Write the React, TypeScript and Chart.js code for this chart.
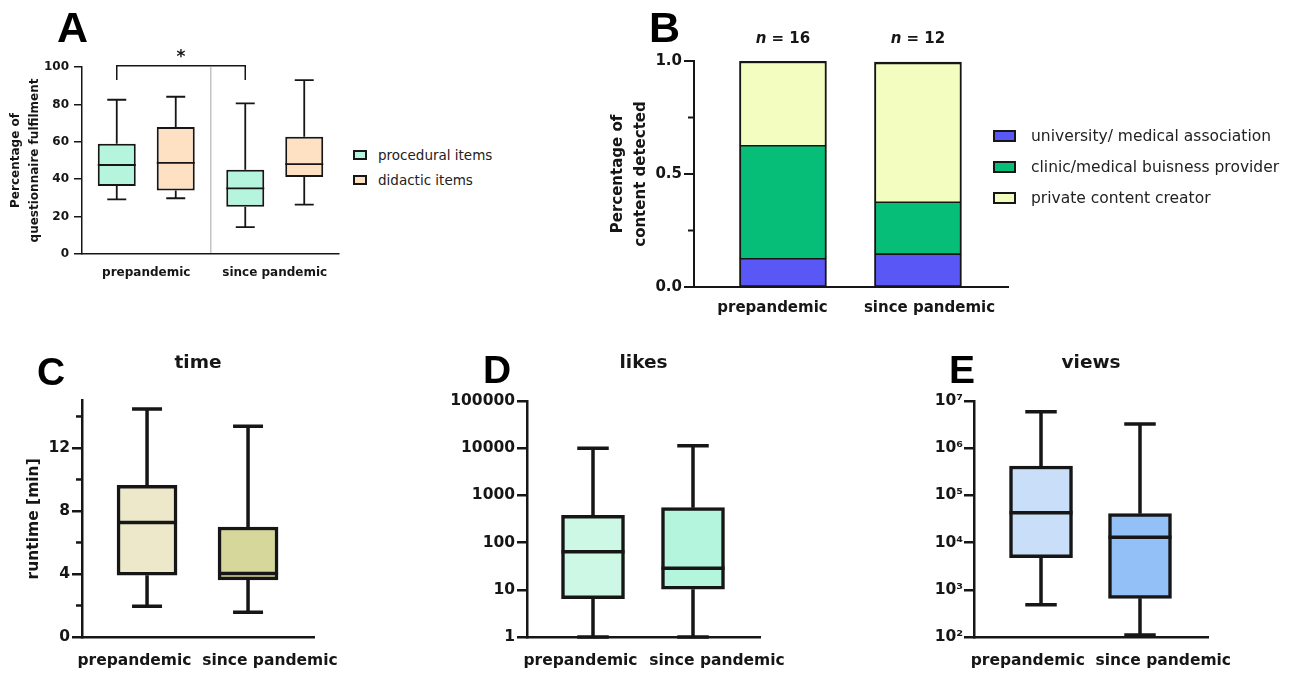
import { useEffect, useRef } from "react";
import { Chart, registerables } from "chart.js";

Chart.register(...registerables);

// ---------------- data ----------------
const groupLabels = ["prepandemic", "since pandemic"];

// A: questionnaire fulfilment (%)
const itemSeriesLabels = ["procedural items", "didactic items"];
const proceduralMin = [29.2, 14.4];
const proceduralQ1 = [36.4, 25.3];
const proceduralMedian = [47.6, 35.1];
const proceduralQ3 = [59.0, 45.0];
const proceduralMax = [82.5, 80.6];
const didacticMin = [29.8, 26.4];
const didacticQ1 = [34.0, 41.2];
const didacticMedian = [48.7, 48.1];
const didacticQ3 = [67.9, 62.7];
const didacticMax = [84.1, 93.0];
const fulfilmentTicks = [0, 20, 40, 60, 80, 100];
const significanceLevel = 100.7;
const significanceLegEnd = 93;
const significanceMark = "*";

// B: content source shares
const sourceLabels = [
  "university/ medical association",
  "clinic/medical buisness provider",
  "private content creator",
];
const universityShare = [0.125, 0.145];
const clinicShare = [0.5, 0.23];
const privateShare = [0.375, 0.62];
const sampleSizes = [16, 12];
const shareTicks = [0, 0.5, 1];
const shareMinorTicks = [0.25, 0.75];

// C: runtime [min]
const runtimeMin = [1.95, 1.57];
const runtimeQ1 = [3.92, 3.63];
const runtimeMedian = [7.27, 4.03];
const runtimeQ3 = [9.62, 6.98];
const runtimeMax = [14.48, 13.38];
const runtimeTicks = [0, 4, 8, 12];
const runtimeMinorTicks = [2, 6, 10, 14];

// D: likes
const likesMin = [1, 1];
const likesQ1 = [6.5, 10.3];
const likesMedian = [64, 28.5];
const likesQ3 = [380, 550];
const likesMax = [10000, 11300];
const likesTicks = [1, 10, 100, 1000, 10000, 100000];

// E: views
const viewsMin = [480, 110];
const viewsQ1 = [4800, 660];
const viewsMedian = [43000, 13000];
const viewsQ3 = [420000, 41000];
const viewsMax = [5900000, 3250000];
const viewsTicks = [1e2, 1e3, 1e4, 1e5, 1e6, 1e7];

// ---------------- styles ----------------
const FONT = "'DejaVu Sans', sans-serif";
const LETTER_FONT = "'Liberation Sans', Arial, sans-serif";
const INK = "#161616";
const DIVIDER = "#c4c4c4";
const itemColors = ["#b5f5dd", "#fee0c3"];
const sourceColors = ["#5957f5", "#06be77", "#f3fdc0"];
const runtimeFills = ["#ede8ca", "#d6d79b"];
const likesFills = ["#cdf8e6", "#b3f5dd"];
const viewsFills = ["#c9def8", "#92c0f7"];
const SUP = ["\u2070", "\u00b9", "\u00b2", "\u00b3", "\u2074", "\u2075", "\u2076", "\u2077", "\u2078", "\u2079"];

const font = (size: number, weight: any = "bold", lineHeight = 1.2) => ({
  family: FONT,
  size,
  weight,
  lineHeight,
});

// ---------------- plugins ----------------
const boxWhiskerPlugin = {
  id: "boxWhisker",
  afterDatasetsDraw(chart: any) {
    const { ctx } = chart;
    chart.data.datasets.forEach((ds: any, di: number) => {
      const stats = ds.boxStats;
      if (!stats) return;
      const meta = chart.getDatasetMeta(di);
      const yScale = chart.scales[meta.yAxisID];
      ctx.save();
      ctx.strokeStyle = INK;
      ctx.lineWidth = ds.whiskerWidth;
      meta.data.forEach((el: any, i: number) => {
        const x = el.x;
        const w = el.width;
        const cap = w * 0.5;
        const yMax = yScale.getPixelForValue(stats.max[i]);
        const yMin = yScale.getPixelForValue(stats.min[i]);
        const yQ3 = yScale.getPixelForValue(stats.q3[i]);
        const yQ1 = yScale.getPixelForValue(stats.q1[i]);
        const yMed = yScale.getPixelForValue(stats.median[i]);
        ctx.beginPath();
        ctx.moveTo(x, yQ3);
        ctx.lineTo(x, yMax);
        ctx.moveTo(x - cap / 2, yMax);
        ctx.lineTo(x + cap / 2, yMax);
        ctx.moveTo(x, yQ1);
        ctx.lineTo(x, yMin);
        ctx.moveTo(x - cap / 2, yMin);
        ctx.lineTo(x + cap / 2, yMin);
        ctx.moveTo(x - w / 2, yMed);
        ctx.lineTo(x + w / 2, yMed);
        ctx.stroke();
      });
      ctx.restore();
    });
  },
};

const minorTickPlugin = {
  id: "minorTicks",
  afterDraw(chart: any, _args: any, opts: any) {
    if (!opts || !opts.values) return;
    const s = chart.scales.y;
    const { ctx } = chart;
    ctx.save();
    ctx.strokeStyle = INK;
    ctx.lineWidth = opts.width;
    opts.values.forEach((v: number) => {
      const py = s.getPixelForValue(v);
      ctx.beginPath();
      ctx.moveTo(s.right - opts.length, py);
      ctx.lineTo(s.right, py);
      ctx.stroke();
    });
    ctx.restore();
  },
};

const significancePlugin = {
  id: "significance",
  afterDraw(chart: any) {
    const { ctx } = chart;
    const meta = chart.getDatasetMeta(0);
    const a = meta.data[0].x;
    const b = meta.data[1].x;
    const y = chart.scales.y;
    const top = y.getPixelForValue(significanceLevel);
    const leg = y.getPixelForValue(significanceLegEnd);
    ctx.save();
    ctx.strokeStyle = INK;
    ctx.lineWidth = 1.5;
    ctx.beginPath();
    ctx.moveTo(a, leg);
    ctx.lineTo(a, top);
    ctx.lineTo(b, top);
    ctx.lineTo(b, leg);
    ctx.stroke();
    ctx.fillStyle = INK;
    ctx.font = `bold 17px ${FONT}`;
    ctx.textAlign = "center";
    ctx.textBaseline = "alphabetic";
    ctx.fillText(significanceMark, (a + b) / 2, top - 4);
    ctx.restore();
  },
};

const sampleSizePlugin = {
  id: "sampleSize",
  afterDraw(chart: any) {
    const { ctx } = chart;
    const meta = chart.getDatasetMeta(chart.data.datasets.length - 1);
    const y = chart.scales.y.getPixelForValue(1) - 22;
    const italic = `italic bold 15px ${FONT}`;
    const bold = `bold 15px ${FONT}`;
    ctx.save();
    ctx.fillStyle = INK;
    ctx.textBaseline = "middle";
    ctx.textAlign = "left";
    meta.data.forEach((el: any, i: number) => {
      const rest = ` = ${sampleSizes[i]}`;
      ctx.font = italic;
      const w1 = ctx.measureText("n").width;
      ctx.font = bold;
      const w2 = ctx.measureText(rest).width;
      const x0 = el.x - (w1 + w2) / 2;
      ctx.font = italic;
      ctx.fillText("n", x0, y);
      ctx.font = bold;
      ctx.fillText(rest, x0 + w1, y);
    });
    ctx.restore();
  },
};

const baseOptions = {
  responsive: false,
  animation: false,
  devicePixelRatio: 1,
};

// ---------------- configs ----------------
function makeFulfilmentConfig(): any {
  const series = [
    { label: itemSeriesLabels[0], fill: itemColors[0], min: proceduralMin, q1: proceduralQ1, median: proceduralMedian, q3: proceduralQ3, max: proceduralMax },
    { label: itemSeriesLabels[1], fill: itemColors[1], min: didacticMin, q1: didacticQ1, median: didacticMedian, q3: didacticQ3, max: didacticMax },
  ];
  return {
    type: "bar",
    data: {
      labels: groupLabels,
      datasets: series.map((s) => ({
        label: s.label,
        data: groupLabels.map((_, i) => [s.q1[i], s.q3[i]]),
        backgroundColor: s.fill,
        borderColor: INK,
        borderWidth: 2,
        borderSkipped: false,
        categoryPercentage: 0.918,
        barPercentage: 0.644,
        boxStats: { min: s.min, q1: s.q1, median: s.median, q3: s.q3, max: s.max },
        whiskerWidth: 1.8,
      })),
    },
    options: {
      ...baseOptions,
      layout: { padding: { left: 0, top: 67, right: 6, bottom: 0 } },
      plugins: { legend: { display: false }, tooltip: { enabled: false } },
      scales: {
        x: {
          type: "category",
          offset: true,
          grid: {
            display: true,
            offset: true,
            drawTicks: false,
            drawOnChartArea: true,
            lineWidth: 1.5,
            color: (c: any) => (c.index === 1 ? DIVIDER : "rgba(0,0,0,0)"),
          },
          border: { display: true, color: INK, width: 1.5 },
          ticks: { color: INK, font: font(12), padding: 12, maxRotation: 0, minRotation: 0, autoSkip: false },
          afterFit: (s: any) => {
            s.height = 46;
          },
        },
        y: {
          type: "linear",
          min: 0,
          max: 100,
          afterBuildTicks: (s: any) => {
            s.ticks = fulfilmentTicks.map((value) => ({ value }));
          },
          ticks: { color: INK, font: font(12), padding: 5 },
          grid: { drawOnChartArea: false, drawTicks: true, tickLength: 8, color: INK, lineWidth: 1.5 },
          border: { display: true, color: INK, width: 1.5 },
          title: {
            display: true,
            text: ["Percentage of", "questionnaire fulfilment"],
            color: INK,
            font: font(12, "bold", 1.6),
            padding: { top: 6, bottom: 0 },
          },
          afterFit: (s: any) => {
            s.width = 82;
          },
        },
      },
    },
    plugins: [boxWhiskerPlugin, significancePlugin],
  };
}

function makeSourceConfig(): any {
  const shares = [universityShare, clinicShare, privateShare];
  return {
    type: "bar",
    data: {
      labels: groupLabels,
      datasets: shares.map((vals, k) => ({
        label: sourceLabels[k],
        data: groupLabels.map((_, i) => ({ x: i, y: vals[i] })),
        backgroundColor: sourceColors[k],
        borderColor: INK,
        borderWidth: { left: 2, right: 2, top: k === shares.length - 1 ? 2.5 : 1.2, bottom: 1.2 },
        borderSkipped: false,
        barThickness: 87,
        xAxisID: "xBar",
        yAxisID: "y",
      })),
    },
    options: {
      ...baseOptions,
      layout: { padding: { left: 0, top: 61, right: 12, bottom: 0 } },
      plugins: {
        legend: { display: false },
        tooltip: { enabled: false },
        minorTicks: { values: shareMinorTicks, length: 6, width: 2 },
      },
      scales: {
        x: {
          type: "category",
          offset: true,
          z: 1,
          grid: { display: false, drawTicks: false },
          border: { display: true, color: INK, width: 2 },
          ticks: { color: INK, font: font(15), padding: 12, maxRotation: 0, minRotation: 0, autoSkip: false },
          afterFit: (s: any) => {
            s.height = 43;
          },
        },
        xBar: {
          type: "linear",
          display: false,
          offset: false,
          grid: { offset: false },
          bounds: "data",
          stacked: true,
          min: -0.659,
          max: 1.667,
        },
        y: {
          type: "linear",
          stacked: true,
          min: 0,
          max: 1,
          afterBuildTicks: (s: any) => {
            s.ticks = shareTicks.map((value) => ({ value }));
          },
          ticks: { color: INK, font: font(15), padding: 2, callback: (v: number) => Number(v).toFixed(1) },
          grid: { drawOnChartArea: false, drawTicks: true, tickLength: 10, color: INK, lineWidth: 2 },
          border: { display: true, color: INK, width: 2 },
          title: {
            display: true,
            text: ["Percentage of", "content detected"],
            color: INK,
            font: font(15, "bold", 1.53),
            padding: { top: 6.5, bottom: 0 },
          },
          afterFit: (s: any) => {
            s.width = 94;
          },
        },
      },
    },
    plugins: [sampleSizePlugin, minorTickPlugin],
  };
}

function makeMetricConfig(p: any): any {
  return {
    type: "bar",
    data: {
      datasets: [
        {
          label: p.title,
          data: groupLabels.map((_, i) => ({ x: i, y: [p.q1[i], p.q3[i]] })),
          backgroundColor: p.fills,
          borderColor: INK,
          borderWidth: 3.5,
          borderSkipped: false,
          barThickness: p.boxWidth,
          xAxisID: "xBox",
          yAxisID: "y",
          boxStats: { min: p.min, q1: p.q1, median: p.median, q3: p.q3, max: p.max },
          whiskerWidth: 3.5,
        },
      ],
    },
    options: {
      ...baseOptions,
      layout: { padding: { left: 0, top: 0, right: p.padRight, bottom: 0 } },
      plugins: {
        legend: { display: false },
        tooltip: { enabled: false },
        title: {
          display: true,
          text: p.title,
          fullSize: false,
          color: INK,
          font: font(18.5),
          padding: { top: 22, bottom: p.titleGap },
        },
        minorTicks: p.minor ? { values: p.minor, length: 6, width: 2.5 } : {},
      },
      scales: {
        x: {
          type: "linear",
          offset: false,
          bounds: "data",
          min: p.labelRange[0],
          max: p.labelRange[1],
          afterBuildTicks: (s: any) => {
            s.ticks = groupLabels.map((_, value) => ({ value }));
          },
          ticks: {
            color: INK,
            font: font(15.5),
            padding: 14.7,
            maxRotation: 0,
            minRotation: 0,
            autoSkip: false,
            callback: (v: number) => groupLabels[v] ?? "",
          },
          grid: { display: false, drawTicks: false, offset: false },
          border: { display: true, color: INK, width: 2.5 },
          afterFit: (s: any) => {
            s.height = 36;
          },
        },
        xBox: {
          type: "linear",
          display: false,
          offset: false,
          bounds: "data",
          grid: { offset: false },
          min: p.boxRange[0],
          max: p.boxRange[1],
        },
        y: {
          type: p.logScale ? "logarithmic" : "linear",
          min: p.yMin,
          max: p.yMax,
          afterBuildTicks: (s: any) => {
            s.ticks = p.ticks.map((value: number) => ({ value }));
          },
          ticks: { color: INK, font: font(15.5), padding: p.tickPad, callback: p.format },
          grid: { drawOnChartArea: false, drawTicks: true, tickLength: 10, color: INK, lineWidth: 2.5 },
          border: { display: true, color: INK, width: 2.5 },
          title: p.yTitle
            ? { display: true, text: p.yTitle, color: INK, font: font(15.5), padding: { top: 24.7, bottom: 0 } }
            : { display: false },
          afterFit: (s: any) => {
            s.width = p.axisWidth;
          },
        },
      },
    },
    plugins: [boxWhiskerPlugin, minorTickPlugin],
  };
}

const makeRuntimeConfig = () =>
  makeMetricConfig({
    title: "time",
    yTitle: "runtime [min]",
    fills: runtimeFills,
    min: runtimeMin,
    q1: runtimeQ1,
    median: runtimeMedian,
    q3: runtimeQ3,
    max: runtimeMax,
    boxWidth: 60,
    padRight: 66,
    titleGap: 26.5,
    labelRange: [-0.387, 1.325],
    boxRange: [-0.644, 1.653],
    logScale: false,
    yMin: 0,
    yMax: 15,
    ticks: runtimeTicks,
    minor: runtimeMinorTicks,
    tickPad: 2,
    format: (v: number) => String(v),
    axisWidth: 82,
  });

const makeLikesConfig = () =>
  makeMetricConfig({
    title: "likes",
    fills: likesFills,
    min: likesMin,
    q1: likesQ1,
    median: likesMedian,
    q3: likesQ3,
    max: likesMax,
    boxWidth: 63,
    padRight: 80,
    titleGap: 26.8,
    labelRange: [-0.392, 1.315],
    boxRange: [-0.66, 1.67],
    logScale: true,
    yMin: 1,
    yMax: 100000,
    ticks: likesTicks,
    tickPad: 2,
    format: (v: number) => String(v),
    axisWidth: 107,
  });

const makeViewsConfig = () =>
  makeMetricConfig({
    title: "views",
    fills: viewsFills,
    min: viewsMin,
    q1: viewsQ1,
    median: viewsMedian,
    q3: viewsQ3,
    max: viewsMax,
    boxWidth: 63,
    padRight: 72,
    titleGap: 26.8,
    labelRange: [-0.397, 1.33],
    boxRange: [-0.677, 1.687],
    logScale: true,
    yMin: 1e2,
    yMax: 1e7,
    ticks: viewsTicks,
    tickPad: 1,
    format: (v: number) => "10" + SUP[Math.round(Math.log10(v))],
    axisWidth: 94,
  });

// ---------------- components ----------------
function ChartCanvas(props: { left: number; top: number; width: number; height: number; make: () => any }) {
  const ref = useRef<HTMLCanvasElement | null>(null);
  useEffect(() => {
    const chart = new Chart(ref.current as HTMLCanvasElement, props.make());
    return () => chart.destroy();
  }, []);
  return (
    <canvas
      ref={ref}
      width={props.width}
      height={props.height}
      style={{ position: "absolute", left: props.left, top: props.top, width: props.width, height: props.height }}
    />
  );
}

function HtmlLegend(props: {
  labels: string[];
  colors: string[];
  left: number;
  top: number;
  rowHeight: number;
  swatchW: number;
  swatchH: number;
  gap: number;
  fontSize: number;
}) {
  return (
    <div style={{ position: "absolute", left: props.left, top: props.top }}>
      {props.labels.map((label, i) => (
        <div
          key={label}
          style={{ height: props.rowHeight, display: "flex", alignItems: "center", whiteSpace: "nowrap" }}
        >
          <span
            style={{
              display: "inline-block",
              boxSizing: "border-box",
              width: props.swatchW,
              height: props.swatchH,
              background: props.colors[i],
              border: `2px solid ${INK}`,
              marginRight: props.gap,
            }}
          />
          <span style={{ fontFamily: FONT, fontSize: props.fontSize, color: "#222" }}>{label}</span>
        </div>
      ))}
    </div>
  );
}

function PanelLetter(props: { text: string; left: number; top: number; size: number }) {
  return (
    <div
      style={{
        position: "absolute",
        left: props.left,
        top: props.top,
        fontFamily: LETTER_FONT,
        fontWeight: "bold",
        fontSize: props.size,
        lineHeight: 1,
        color: "#000",
      }}
    >
      {props.text}
    </div>
  );
}

export default function App() {
  return (
    <div
      style={{
        position: "absolute",
        left: 0,
        top: 0,
        width: 1308,
        height: 673,
        background: "#ffffff",
        overflow: "hidden",
      }}
    >
      <ChartCanvas left={0} top={0} width={345} height={300} make={makeFulfilmentConfig} />
      <ChartCanvas left={600} top={0} width={420} height={330} make={makeSourceConfig} />
      <ChartCanvas left={0} top={330} width={380} height={343} make={makeRuntimeConfig} />
      <ChartCanvas left={420} top={330} width={420} height={343} make={makeLikesConfig} />
      <ChartCanvas left={880} top={330} width={400} height={343} make={makeViewsConfig} />

      <HtmlLegend
        labels={itemSeriesLabels}
        colors={itemColors}
        left={353}
        top={142.5}
        rowHeight={25}
        swatchW={14}
        swatchH={10}
        gap={11}
        fontSize={13.5}
      />
      <HtmlLegend
        labels={sourceLabels}
        colors={sourceColors}
        left={993}
        top={120.5}
        rowHeight={31}
        swatchW={23}
        swatchH={12}
        gap={15}
        fontSize={15.5}
      />

      <PanelLetter text="A" left={57} top={6.4} size={43} />
      <PanelLetter text="B" left={649} top={6.4} size={43} />
      <PanelLetter text="C" left={37} top={352} size={39} />
      <PanelLetter text="D" left={483} top={350} size={39} />
      <PanelLetter text="E" left={949} top={350} size={39} />
    </div>
  );
}
